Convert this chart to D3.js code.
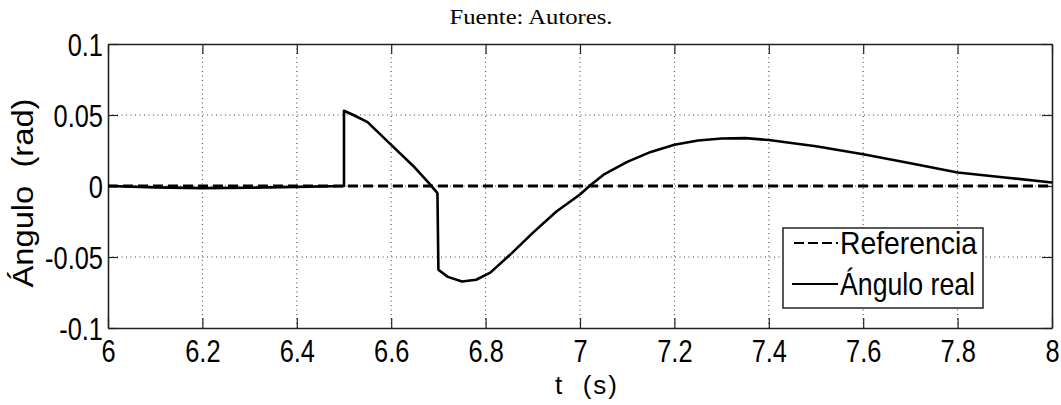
<!DOCTYPE html>
<html><head><meta charset="utf-8">
<script src="https://cdn.jsdelivr.net/npm/d3@7"></script>
<style>body{margin:0;background:#fff}svg{display:block}</style>
</head><body>
<svg id="c" width="1061" height="405"></svg>
<script>
// ---- data ----
const title = "Fuente: Autores.";
const xLabel = "t  (s)";
const yLabel = "Ángulo  (rad)";
const seriesNames = ["Referencia", "Ángulo real"];
const xTicks = [6, 6.2, 6.4, 6.6, 6.8, 7, 7.2, 7.4, 7.6, 7.8, 8];
const yTicks = [-0.1, -0.05, 0, 0.05, 0.1];
const refT = [6, 8];
const refV = [0, 0];
const realT = [6.0, 6.1, 6.2, 6.3, 6.4, 6.5, 6.5, 6.52, 6.55, 6.6, 6.65, 6.68, 6.698, 6.7, 6.72, 6.75, 6.78, 6.81, 6.85, 6.9, 6.95, 7.0, 7.02, 7.05, 7.1, 7.15, 7.2, 7.25, 7.3, 7.35, 7.4, 7.5, 7.6, 7.7, 7.8, 7.9, 8.0];
const realV = [0.0, -0.001, -0.0015, -0.0012, -0.0006, 0.0, 0.053, 0.050, 0.045, 0.029, 0.013, 0.002, -0.005, -0.059, -0.064, -0.0672, -0.066, -0.061, -0.049, -0.033, -0.018, -0.006, 0.0, 0.008, 0.017, 0.024, 0.029, 0.032, 0.0335, 0.0337, 0.0324, 0.028, 0.0223, 0.016, 0.0095, 0.006, 0.0025];

// ---- layout ----
const svg = d3.select("#c");
const L = 108, R = 1052, T = 44, B = 328;
const x = d3.scaleLinear().domain([6, 8]).range([L, R]);
const y = d3.scaleLinear().domain([-0.1, 0.1]).range([B, T]);
const sans = "'Liberation Sans', Arial, sans-serif";
const fmt = d => String(+(+d).toFixed(2));

// grid
const grid = svg.append("g").attr("stroke", "#000").attr("stroke-width", 1).attr("stroke-dasharray", "1,3.5").attr("opacity", 0.75);
xTicks.slice(1, -1).forEach(t => grid.append("line").attr("x1", x(t)).attr("x2", x(t)).attr("y1", T).attr("y2", B));
yTicks.slice(1, -1).forEach(v => grid.append("line").attr("x1", L).attr("x2", R).attr("y1", y(v)).attr("y2", y(v)));

// axes (MATLAB style inward ticks, box)
const tickLen = 10;
const axB = svg.append("g").attr("transform", `translate(0,${B})`).call(d3.axisBottom(x).tickValues(xTicks).tickSizeInner(-tickLen).tickSizeOuter(0).tickFormat(fmt));
const axT = svg.append("g").attr("transform", `translate(0,${T})`).call(d3.axisTop(x).tickValues(xTicks).tickSizeInner(-tickLen).tickSizeOuter(0).tickFormat(""));
const axL = svg.append("g").attr("transform", `translate(${L},0)`).call(d3.axisLeft(y).tickValues(yTicks).tickSizeInner(-tickLen).tickSizeOuter(0).tickFormat(fmt));
const axR = svg.append("g").attr("transform", `translate(${R},0)`).call(d3.axisRight(y).tickValues(yTicks).tickSizeInner(-tickLen).tickSizeOuter(0).tickFormat(""));
[axB, axT, axL, axR].forEach(a => {
  a.selectAll("path").attr("stroke", "#222").attr("stroke-width", 1.6);
  a.selectAll(".tick line").attr("stroke", "#222").attr("stroke-width", 1.2);
});
// tick label styling (horizontally condensed)
axB.selectAll(".tick text")
  .attr("font-family", sans).attr("font-size", 31).attr("fill", "#000")
  .attr("dy", null).attr("y", 0)
  .attr("transform", `translate(0,34) scale(0.82,1)`);
axL.selectAll(".tick text")
  .attr("font-family", sans).attr("font-size", 31).attr("fill", "#000")
  .attr("x", 0).attr("dy", null).attr("y", 0)
  .attr("transform", `translate(-5,11) scale(0.82,1)`);
svg.selectAll(".domain").attr("fill", "none");

// lines
const line = d3.line().x(d => x(d[0])).y(d => y(d[1]));
svg.append("path").datum(refT.map((t, i) => [t, refV[i]]))
  .attr("d", line).attr("fill", "none").attr("stroke", "#000").attr("stroke-width", 3).attr("stroke-dasharray", "10,5");
svg.append("path").datum(realT.map((t, i) => [t, realV[i]]))
  .attr("d", line).attr("fill", "none").attr("stroke", "#000").attr("stroke-width", 2.6).attr("stroke-linejoin", "round");

// labels
svg.append("text").text(title).attr("x", 531).attr("y", 24).attr("text-anchor", "middle")
  .attr("font-family", "'Liberation Serif', 'DejaVu Serif', serif").attr("font-size", 21)
  .attr("textLength", 163).attr("lengthAdjust", "spacingAndGlyphs").attr("fill", "#000");
svg.append("text").text(xLabel).attr("x", 586).attr("y", 394).attr("text-anchor", "middle")
  .attr("font-family", sans).attr("font-size", 26).attr("fill", "#000").style("white-space", "pre")
  .attr("textLength", 62).attr("lengthAdjust", "spacing");
svg.append("text").text(yLabel).attr("transform", "translate(33,193) rotate(-90)").attr("text-anchor", "middle")
  .attr("font-family", sans).attr("font-size", 30).attr("fill", "#000").style("white-space", "pre")
  .attr("textLength", 189).attr("lengthAdjust", "spacingAndGlyphs");

// legend
const lg = svg.append("g");
lg.append("rect").attr("x", 783).attr("y", 228).attr("width", 200).attr("height", 80)
  .attr("fill", "#fff").attr("stroke", "#222").attr("stroke-width", 1.5);
const legY = [243, 284];
lg.append("line").attr("x1", 794).attr("x2", 838).attr("y1", legY[0]).attr("y2", legY[0])
  .attr("stroke", "#000").attr("stroke-width", 2).attr("stroke-dasharray", "10,4");
lg.append("line").attr("x1", 792).attr("x2", 838).attr("y1", legY[1]).attr("y2", legY[1])
  .attr("stroke", "#000").attr("stroke-width", 2);
seriesNames.forEach((n, i) => {
  lg.append("text").text(n).attr("x", 840).attr("y", legY[i] + 11)
    .attr("font-family", sans).attr("font-size", 32).attr("fill", "#000")
    .attr("textLength", i === 0 ? 137 : 135).attr("lengthAdjust", "spacingAndGlyphs");
});
</script>
</body></html>
